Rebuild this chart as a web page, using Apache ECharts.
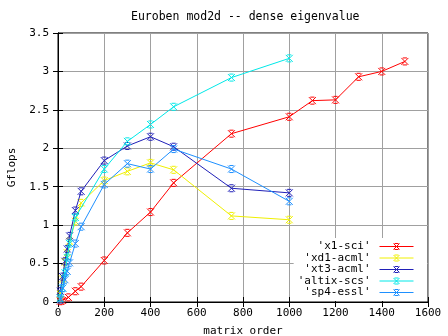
<!DOCTYPE html>
<html><head><meta charset="utf-8">
<script src="https://cdn.jsdelivr.net/npm/echarts@6/dist/echarts.min.js"></script>
<style>html,body{margin:0;padding:0;background:#fff}#c{width:448px;height:336px}</style>
</head><body><div id="c"></div>
<script>
const titleText = "Euroben mod2d -- dense eigenvalue";
const xName = "matrix order";
const yName = "Gflops";
const seriesNames = ["'x1-sci'", "'xd1-acml'", "'xt3-acml'", "'altix-scs'", "'sp4-essl'"];
const seriesColors = ["#ff0000", "#f0f000", "#2020b8", "#00e8e8", "#1e90ff"];
const x1sci = [[10,0.01],[20,0.02],[45,0.06],[75,0.14],[100,0.20],[200,0.54],[300,0.90],[400,1.17],[500,1.55],[750,2.19],[1000,2.41],[1100,2.62],[1200,2.63],[1300,2.93],[1400,3.00],[1500,3.13]];
const xd1acml = [[10,0.10],[20,0.30],[30,0.52],[40,0.64],[50,0.79],[75,1.05],[100,1.29],[200,1.58],[300,1.70],[400,1.81],[500,1.72],[750,1.12],[1000,1.07]];
const xt3acml = [[10,0.14],[20,0.33],[30,0.53],[40,0.69],[50,0.86],[75,1.19],[100,1.44],[200,1.84],[300,2.03],[400,2.15],[500,2.02],[750,1.48],[1000,1.42]];
const altixscs = [[10,0.05],[20,0.18],[30,0.38],[40,0.58],[50,0.76],[75,1.10],[200,1.73],[300,2.09],[400,2.31],[500,2.54],[750,2.92],[1000,3.17]];
const sp4essl = [[10,0.03],[20,0.18],[30,0.29],[40,0.40],[50,0.51],[75,0.76],[100,0.98],[200,1.53],[300,1.80],[400,1.73],[500,1.99],[750,1.73],[1000,1.31]];
const allData = [x1sci, xd1acml, xt3acml, altixscs, sp4essl];
const xMin = 0, xMax = 1600, xStep = 200;
const yMin = 0, yMax = 3.5, yStep = 0.5;

const FONT = "DejaVu Sans Mono";
const chart = echarts.init(document.getElementById('c'), null, {renderer: 'canvas'});
const marker = 'path://M0,0L10,10M10,0L0,10M2,0L8,0M2,10L8,10';
const legendIcon = 'path://M0,4L34,4M14,1L20,7M20,1L14,7M15,1L19,1M15,7L19,7';
const axisCommon = {
  axisLine: {show: true, lineStyle: {color: '#000', width: 1}},
  axisTick: {show: true, inside: true, length: 5, lineStyle: {color: '#000'}},
};
chart.setOption({
  animation: false,
  backgroundColor: '#fff',
  title: {text: titleText, left: 126, top: 6, textStyle: {fontFamily: FONT, fontSize: 11.5, fontWeight: 'normal', color: '#000'}},
  grid: {left: 58, right: 20, top: 33, bottom: 34, containLabel: false, outerBoundsMode: 'none',
    show: true, borderColor: '#000', borderWidth: 1, backgroundColor: 'transparent'},
  legend: {
    orient: 'vertical', right: 21, bottom: 35, align: 'right',
    icon: legendIcon,
    itemWidth: 34, itemHeight: 8, itemGap: 0.5,
    itemStyle: {borderWidth: 1, borderColor: 'inherit'},
    backgroundColor: '#fff', padding: [3, 13, 3, 4],
    textStyle: {fontFamily: FONT, fontSize: 11, lineHeight: 11, color: '#000', padding: [0, 4, 0, 0]},
    data: seriesNames
  },
  xAxis: [
    Object.assign({type: 'value', min: xMin, max: xMax, interval: xStep, position: 'bottom',
      name: xName, nameLocation: 'middle', nameGap: 24, nameTextStyle: {fontFamily: FONT, fontSize: 11, color: '#000'},
      axisLabel: {fontFamily: FONT, fontSize: 11, color: '#000', margin: 6, formatter: v => String(v)},
      splitLine: {show: true, lineStyle: {color: '#a0a0a0', width: 1}}}, axisCommon),
    Object.assign({type: 'value', min: xMin, max: xMax, interval: xStep, position: 'top',
      axisLabel: {show: false}, splitLine: {show: false}}, axisCommon)
  ],
  yAxis: [
    Object.assign({type: 'value', min: yMin, max: yMax, interval: yStep, position: 'left',
      name: yName, nameLocation: 'middle', nameGap: 40, nameTextStyle: {fontFamily: FONT, fontSize: 11, color: '#000'},
      axisLabel: {fontFamily: FONT, fontSize: 11, color: '#000', margin: 9, formatter: v => String(v)},
      splitLine: {show: true, lineStyle: {color: '#a0a0a0', width: 1}}}, axisCommon),
    Object.assign({type: 'value', min: yMin, max: yMax, interval: yStep, position: 'right',
      axisLabel: {show: false}, splitLine: {show: false}}, axisCommon)
  ],
  series: allData.map((d, i) => ({
    name: seriesNames[i], type: 'line', data: d, xAxisIndex: 0, yAxisIndex: 0,
    symbol: marker, symbolSize: 7, showSymbol: true,
    lineStyle: {color: seriesColors[i], width: 1},
    itemStyle: {color: seriesColors[i], borderColor: seriesColors[i], borderWidth: 1},
    z: 3 + i
  }))
});
</script></body></html>
